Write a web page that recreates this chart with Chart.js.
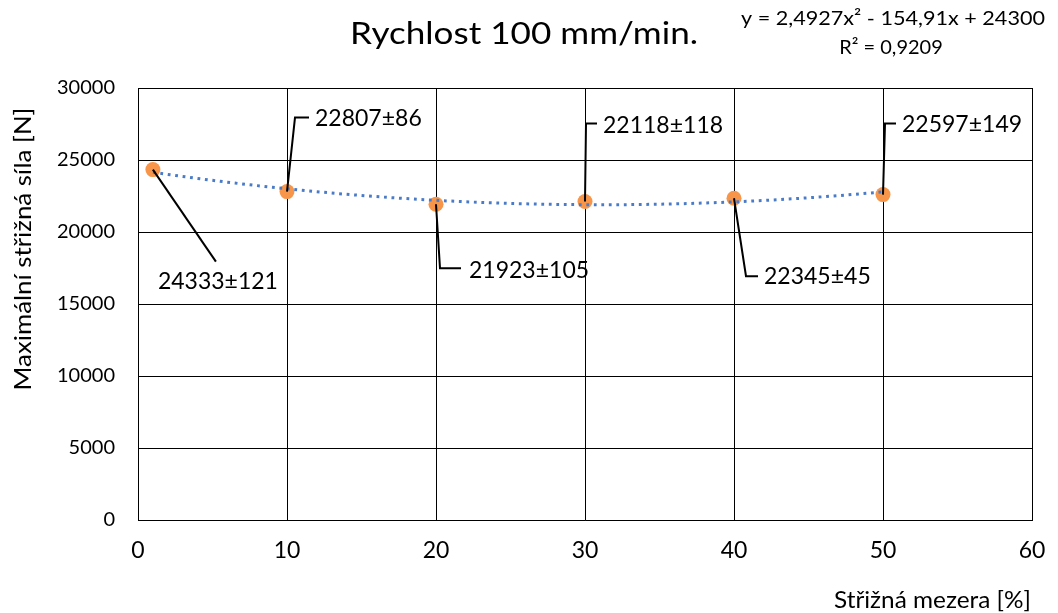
<!DOCTYPE html>
<html>
<head>
<meta charset="utf-8">
<script src="https://cdn.jsdelivr.net/npm/chart.js@4.4.1/dist/chart.umd.min.js"></script>
<style>
  html, body { margin: 0; padding: 0; background: #fff; }
  canvas { display: block; }
</style>
</head>
<body>
<canvas id="chart" width="1058" height="613"></canvas>
<script>
// Measured shear force versus punch-die clearance, speed 100 mm/min
const clearance = [1, 10, 20, 30, 40, 50];            // Střižná mezera [%]
const maxForce = [24333, 22807, 21923, 22118, 22345, 22597]; // [N]
const forceSpread = [121, 86, 105, 118, 45, 149];     // ± [N]

// Polynomial trendline y = a·x² + b·x + c and its coefficient of determination
const trendCoef = [2.4927, -154.91, 24300];
const trendR2 = 0.9209;

const xTicks = [0, 10, 20, 30, 40, 50, 60];
const yTicks = [0, 5000, 10000, 15000, 20000, 25000, 30000];

const chartTitle = 'Rychlost 100 mm/min.';
const xTitle = 'Střižná mezera [%]';
const yTitle = 'Maximální střižná síla [N]';

// Callout geometry in pixels relative to each point:
// elbow (dx, dy), horizontal run to hx, text start tx and text centre ty
const calloutLayout = [
  { dx: 63, dy: 92, hx: 63, tx: 5, ty: 112 },
  { dx: 8, dy: -74, hx: 22, tx: 28, ty: -73 },
  { dx: 4, dy: 64, hx: 25, tx: 33, ty: 66 },
  { dx: 1, dy: -78, hx: 12, tx: 18, ty: -76 },
  { dx: 12, dy: 78, hx: 24, tx: 30, ty: 78 },
  { dx: 2, dy: -71, hx: 13, tx: 19, ty: -70 }
];

const comma = v => String(v).replace('.', ',');
const trendAt = x => trendCoef[0] * x * x + trendCoef[1] * x + trendCoef[2];

// Trendline sampled over the measured clearance range
const trendPoints = [];
for (let x = clearance[0]; x <= clearance[clearance.length - 1] + 1e-9; x += 0.5) {
  trendPoints.push({ x: x, y: trendAt(x) });
}

const equationText = 'y = ' + comma(trendCoef[0]) + 'x² - ' + comma(Math.abs(trendCoef[1])) +
  'x + ' + comma(trendCoef[2]);
const r2Text = 'R² = ' + comma(trendR2);

function drawFitted(ctx, text, x, y, font, width, align) {
  ctx.save();
  ctx.font = font;
  const w = ctx.measureText(text).width;
  ctx.translate(x, y);
  ctx.scale(width / w, 1);
  ctx.textAlign = align;
  ctx.textBaseline = 'middle';
  ctx.fillText(text, 0, 0);
  ctx.restore();
}

const annotations = {
  id: 'annotations',
  afterDatasetsDraw(chart) {
    const ctx = chart.ctx;
    const meta = chart.getDatasetMeta(1);
    ctx.save();
    ctx.strokeStyle = '#000';
    ctx.lineWidth = 2;
    ctx.fillStyle = '#000';
    ctx.font = '23px Lato';
    ctx.textBaseline = 'middle';
    ctx.textAlign = 'left';
    meta.data.forEach((pt, i) => {
      const c = calloutLayout[i];
      ctx.beginPath();
      ctx.moveTo(pt.x, pt.y);
      ctx.lineTo(pt.x + c.dx, pt.y + c.dy);
      ctx.lineTo(pt.x + c.hx, pt.y + c.dy);
      ctx.stroke();
      ctx.fillText(maxForce[i] + '±' + forceSpread[i], pt.x + c.tx, pt.y + c.ty);
    });
    ctx.restore();
  },
  afterDraw(chart) {
    const ctx = chart.ctx;
    ctx.save();
    ctx.fillStyle = '#000';
    drawFitted(ctx, chartTitle, 524, 34, '30px Lato', 348, 'center');
    drawFitted(ctx, equationText, 893, 19, '20px Lato', 304, 'center');
    ctx.font = '20px Lato';
    ctx.textAlign = 'center';
    ctx.textBaseline = 'middle';
    ctx.fillText(r2Text, 891, 48);
    drawFitted(ctx, xTitle, 1031, 601, '23px Lato', 197, 'right');
    ctx.translate(24, 249);
    ctx.rotate(-Math.PI / 2);
    drawFitted(ctx, yTitle, 0, 0, '23px Lato', 283, 'center');
    ctx.restore();
  }
};

new Chart(document.getElementById('chart'), {
  type: 'scatter',
  data: {
    datasets: [
      {
        label: 'Polynomická regrese',
        data: trendPoints,
        showLine: true,
        borderColor: '#4A7BC8',
        borderWidth: 3,
        borderDash: [2.8, 4.7],
        borderCapStyle: 'butt',
        pointRadius: 0,
        tension: 0
      },
      {
        label: 'Maximální střižná síla',
        data: clearance.map((x, i) => ({ x: x, y: maxForce[i] })),
        showLine: false,
        pointRadius: 7.5,
        pointBackgroundColor: '#F7964A',
        pointBorderWidth: 0,
        pointBorderColor: '#F7964A'
      }
    ]
  },
  options: {
    responsive: false,
    animation: false,
    layout: { padding: { left: 0, top: 88, right: 26, bottom: 0 } },
    plugins: {
      legend: { display: false },
      tooltip: { enabled: false },
      title: { display: false }
    },
    scales: {
      x: {
        type: 'linear',
        min: xTicks[0],
        max: xTicks[xTicks.length - 1],
        afterBuildTicks: s => { s.ticks = xTicks.map(v => ({ value: v })); },
        ticks: {
          padding: 17,
          color: '#000',
          font: { family: 'Lato', size: 23 },
          callback: v => String(v)
        },
        grid: { color: '#000', lineWidth: 1, drawTicks: false },
        border: { color: '#000', width: 1 },
        afterFit: s => { s.height = 93; s.paddingLeft = 0; s.paddingRight = 0; }
      },
      y: {
        type: 'linear',
        min: yTicks[0],
        max: yTicks[yTicks.length - 1],
        afterBuildTicks: s => { s.ticks = yTicks.map(v => ({ value: v })); },
        ticks: {
          padding: 23,
          color: '#000',
          font: { family: 'Lato', size: 20 },
          callback: v => String(v)
        },
        grid: { color: '#000', lineWidth: 1, drawTicks: false },
        border: { color: '#000', width: 1 },
        afterFit: s => { s.width = 138; s.paddingTop = 0; s.paddingBottom = 0; }
      }
    }
  },
  plugins: [annotations]
});
</script>
</body>
</html>
